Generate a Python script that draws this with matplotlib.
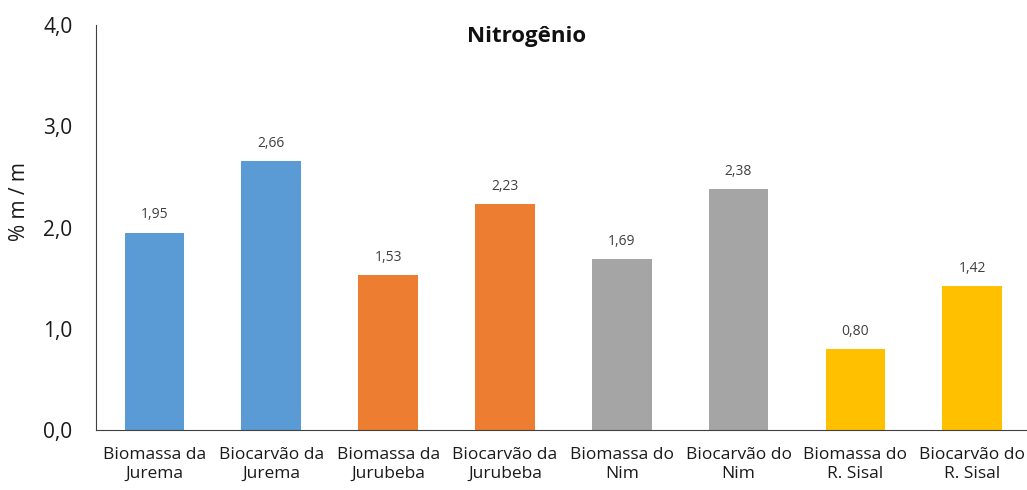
import matplotlib
matplotlib.use("Agg")
import matplotlib.pyplot as plt
from matplotlib.ticker import FuncFormatter

plt.rcParams['font.family'] = ['Open Sans', 'DejaVu Sans']

# data
categories = ["Biomassa da\nJurema", "Biocarvão da\nJurema",
              "Biomassa da\nJurubeba", "Biocarvão da\nJurubeba",
              "Biomassa do\nNim", "Biocarvão do\nNim",
              "Biomassa do\nR. Sisal", "Biocarvão do\nR. Sisal"]
values = [1.95, 2.66, 1.53, 2.23, 1.69, 2.38, 0.80, 1.42]
colors = ["#5B9BD5", "#5B9BD5", "#ED7D31", "#ED7D31",
          "#A5A5A5", "#A5A5A5", "#FFC000", "#FFC000"]

fig = plt.figure(figsize=(10.27, 4.9), dpi=100)
ax = fig.add_axes([0.0935, 0.1224, 0.91, 0.8266])

x = range(len(categories))
bars = ax.bar(x, values, width=0.51, color=colors)

for b, v in zip(bars, values):
    ax.text(b.get_x() + b.get_width() / 2, v + 0.1, f"{v:.2f}".replace(".", ","),
            ha='center', va='bottom', fontsize=10, color='#404040')

ax.set_xlim(-0.5, len(categories) - 0.5)
ax.set_ylim(0, 4)
ax.set_yticks([0, 1, 2, 3, 4])
ax.yaxis.set_major_formatter(FuncFormatter(lambda v, p: f"{v:.1f}".replace(".", ",")))
ax.set_xticks(list(x))
ax.set_xticklabels(categories, fontsize=12.5, linespacing=1.3, color='#1a1a1a')
ax.tick_params(axis='y', labelsize=15, length=0, pad=17, labelcolor='#1a1a1a')
ax.tick_params(axis='x', length=0, pad=12)

ax.spines['top'].set_visible(False)
ax.spines['right'].set_visible(False)
ax.spines['left'].set_color('#404040')
ax.spines['bottom'].set_color('#404040')

ax.set_ylabel("% m / m", fontsize=15, color='#1a1a1a')
ax.yaxis.set_label_coords(-0.071, 0.563)
fig.text(0.513, 0.925, "Nitrogênio", fontsize=16, fontweight='bold',
         ha='center', va='center', color='#111111')

fig.savefig("out.png", dpi=100)
